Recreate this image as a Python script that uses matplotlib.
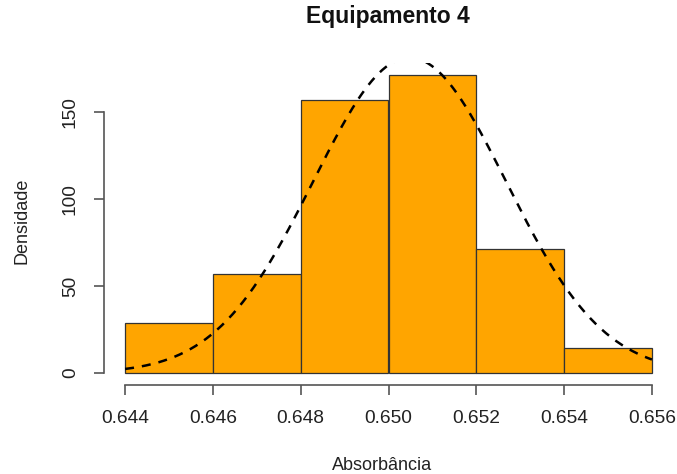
import matplotlib.pyplot as plt
import numpy as np

plt.rcParams['font.family'] = ['Liberation Sans', 'DejaVu Sans']

bin_edges = [0.644, 0.646, 0.648, 0.650, 0.652, 0.654, 0.656]
densities = [28.6, 57.1, 157.1, 171.4, 71.4, 14.3]
fit_mean = 0.65048
fit_sd = 0.0022
xticks = [0.644, 0.646, 0.648, 0.650, 0.652, 0.654, 0.656]
yticks = [0, 50, 100, 150]

fig = plt.figure(figsize=(6.77, 4.74), dpi=100)
ax = fig.add_axes([104 / 677, 1 - 385 / 474, (673 - 104) / 677, (385 - 63) / 474])

ax.bar(bin_edges[:-1], densities, width=np.diff(bin_edges), align='edge',
       color='#FFA500', edgecolor='#333333', linewidth=0.9)

xs = np.linspace(bin_edges[0], bin_edges[-1], 300)
ys = np.exp(-0.5 * ((xs - fit_mean) / fit_sd) ** 2) / (fit_sd * np.sqrt(2 * np.pi))
ax.plot(xs, ys, color='black', linewidth=1.8, linestyle=(0, (3.6, 3.2)))

rng = bin_edges[-1] - bin_edges[0]
ax.set_xlim(bin_edges[0] - 0.04 * rng, bin_edges[-1] + 0.04 * rng)
ytop = max(densities)
ax.set_ylim(-0.04 * ytop, ytop * 1.04)

for s in ['top', 'right']:
    ax.spines[s].set_visible(False)
ax.spines['bottom'].set_bounds(bin_edges[0], bin_edges[-1])
ax.spines['left'].set_bounds(yticks[0], yticks[-1])
for s in ['bottom', 'left']:
    ax.spines[s].set_color('#555555')
    ax.spines[s].set_linewidth(1.2)

ax.set_xticks(xticks)
ax.set_xticklabels(['%.3f' % v for v in xticks])
ax.set_yticks(yticks)
ax.set_yticklabels([str(v) for v in yticks], rotation=90, va='center')
ax.tick_params(axis='both', length=7, width=1.2, color='#555555',
               labelsize=13.8, labelcolor='#222222')
ax.tick_params(axis='x', pad=11)
ax.tick_params(axis='y', pad=11)

fig.text(382 / 677, 1 - 465 / 474, 'Absorbância', fontsize=13, color='#222222',
         ha='center', va='center')
fig.text(22 / 677, 1 - 221 / 474, 'Densidade', fontsize=13, color='#222222',
         ha='center', va='center', rotation=90)
fig.text(388 / 677, 1 - 17 / 474, 'Equipamento 4', fontsize=16.5, fontweight='bold',
         ha='center', va='center', color='#111111')

fig.savefig('out.png', dpi=100)
